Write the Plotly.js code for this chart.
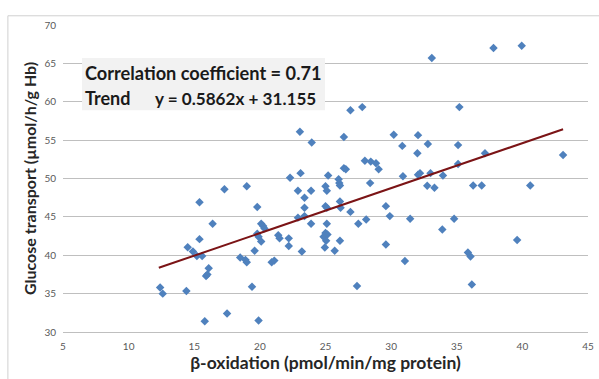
<!DOCTYPE html>
<html>
<head>
<meta charset="utf-8">
<script src="https://cdn.plot.ly/plotly-3.0.1.min.js"></script>
<style>html,body{margin:0;padding:0;background:#fff;}#chart{width:599px;height:379px;}</style>
</head>
<body>
<div id="chart"></div>
<script>
const betaOxidation = [12.4,12.6,14.4,15.8,17.5,19.9,19.4,15.4,17.3,19.0,19.8,16.4,15.4,14.5,14.9,15.2,15.6,16.1,15.9,16.0,
18.5,18.9,19.0,19.6,20.1,20.25,20.35,19.8,19.9,20.1,20.9,21.1,21.4,21.5,22.2,22.2,23.2,22.3,23.1,22.9,
23.4,23.9,23.4,22.9,23.4,23.9,25.0,25.1,25.2,25.0,25.1,25.1,25.0,25.15,24.85,25.05,24.95,25.7,26.1,26.0,
26.05,26.1,26.1,26.15,26.9,27.5,28.1,27.4,28.4,29.6,29.9,29.6,31.05,31.45,30.9,32.05,32.2,32.75,33.3,33.95,
36.25,36.9,40.6,34.8,33.9,39.6,35.85,36.05,36.15,33.1,37.8,39.95,35.2,32.8,35.1,37.15,43.1,35.1,33.0,26.9,
27.8,23.05,23.95,26.4,30.2,30.85,32.05,32.0,28.0,28.45,28.85,29.05,26.4,26.55];
const glucoseTransport = [35.8,35.0,35.35,31.4,32.4,31.5,35.9,46.9,48.6,49.0,46.3,44.1,42.1,41.05,40.5,39.9,39.9,38.3,37.3,37.5,
39.7,39.4,39.1,40.6,44.1,43.8,43.5,42.8,42.4,41.8,39.1,39.3,42.6,42.2,42.2,41.2,40.5,50.1,50.7,48.4,
47.5,48.4,46.2,44.9,45.1,44.1,49.0,48.4,50.4,46.4,46.2,44.1,42.9,42.7,42.4,41.9,41.0,40.6,41.9,49.9,
49.4,49.1,47.0,46.2,45.65,44.1,44.65,36.0,49.4,46.4,45.1,41.4,39.25,44.75,50.3,50.5,50.7,49.05,48.8,50.4,
49.1,49.1,49.1,44.75,43.35,42.0,40.35,39.85,36.2,65.7,67.0,67.3,59.3,54.5,54.35,53.3,53.05,51.9,50.7,58.9,
59.3,56.1,54.7,55.4,55.7,54.25,55.65,53.3,52.3,52.2,52.0,51.2,51.35,51.2];
const trendSlope = 0.5862;
const trendIntercept = 31.155;
const trendRange = [12.3, 43.1];
const xTicks = [5,10,15,20,25,30,35,40,45];
const yTicks = [30,35,40,45,50,55,60,65,70];
const labelLine1 = "Correlation coefficient = 0.71";
const labelTrend = "Trend";
const labelEquation = "y = 0.5862x + 31.155";

const trendY = trendRange.map(x => trendSlope * x + trendIntercept);

const FONT = "Lato, 'Open Sans', sans-serif";

const data = [
  {
    x: betaOxidation, y: glucoseTransport, type: 'scatter', mode: 'markers',
    marker: {symbol: 'diamond', size: 6.5, color: '#4f81bd'}, hoverinfo: 'x+y'
  },
  {
    x: trendRange, y: trendY, type: 'scatter', mode: 'lines',
    line: {color: '#7b1416', width: 2}, hoverinfo: 'skip'
  }
];

const layout = {
  width: 599, height: 379,
  margin: {l: 63, r: 11, t: 25, b: 47},
  paper_bgcolor: '#ffffff', plot_bgcolor: '#ffffff',
  showlegend: false,
  font: {family: FONT, color: '#595959'},
  xaxis: {
    range: [5, 45], tickvals: xTicks, ticktext: xTicks.map(String),
    showgrid: false, zeroline: false,
    showline: true, linecolor: '#bfbfbf', linewidth: 1,
    ticks: 'outside', ticklen: 5, tickcolor: 'rgba(0,0,0,0)',
    tickfont: {family: FONT, size: 10, color: '#595959'},
    title: {text: 'β-oxidation (pmol/min/mg protein)', font: {family: FONT, size: 17.5, color: '#262626', weight: 'bold'}, standoff: 5}
  },
  yaxis: {
    range: [30, 70], tickvals: yTicks, ticktext: yTicks.map(String),
    showgrid: true, gridcolor: '#bfbfbf', gridwidth: 1, zeroline: false,
    showline: false,
    ticks: 'outside', ticklen: 4, tickcolor: 'rgba(0,0,0,0)',
    tickfont: {family: FONT, size: 10, color: '#595959'},
    title: {text: 'Glucose transport (µmol/h/g Hb)', font: {family: FONT, size: 16, color: '#262626', weight: 'bold'}, standoff: 3}
  },
  shapes: [
    {type: 'rect', xref: 'x', yref: 'y', x0: 6.45, x1: 24.96, y0: 58.9, y1: 65.7,
     fillcolor: '#f2f2f2', line: {width: 0}, layer: 'above'},
    {type: 'rect', xref: 'paper', yref: 'paper', x0: -0.105, x1: 1.05, y0: -0.2, y1: 1.03,
     fillcolor: 'rgba(0,0,0,0)', line: {color: '#d0d0d0', width: 1}, layer: 'below'}
  ],
  annotations: [
    {xref: 'paper', yref: 'paper', x: 0.038, y: 0.8435, xanchor: 'left', yanchor: 'middle', showarrow: false,
     text: labelLine1, font: {family: FONT, size: 18.2, color: '#1a1a1a', weight: 'bold'}},
    {xref: 'paper', yref: 'paper', x: 0.038, y: 0.762, xanchor: 'left', yanchor: 'middle', showarrow: false,
     text: labelTrend, font: {family: FONT, size: 18, color: '#1a1a1a', weight: 'bold'}},
    {xref: 'paper', yref: 'paper', x: 0.171, y: 0.762, xanchor: 'left', yanchor: 'middle', showarrow: false,
     text: labelEquation, font: {family: FONT, size: 17.1, color: '#1a1a1a', weight: 'bold'}}
  ]
};

Plotly.newPlot('chart', data, layout, {displayModeBar: false, responsive: false});
</script>
</body>
</html>
